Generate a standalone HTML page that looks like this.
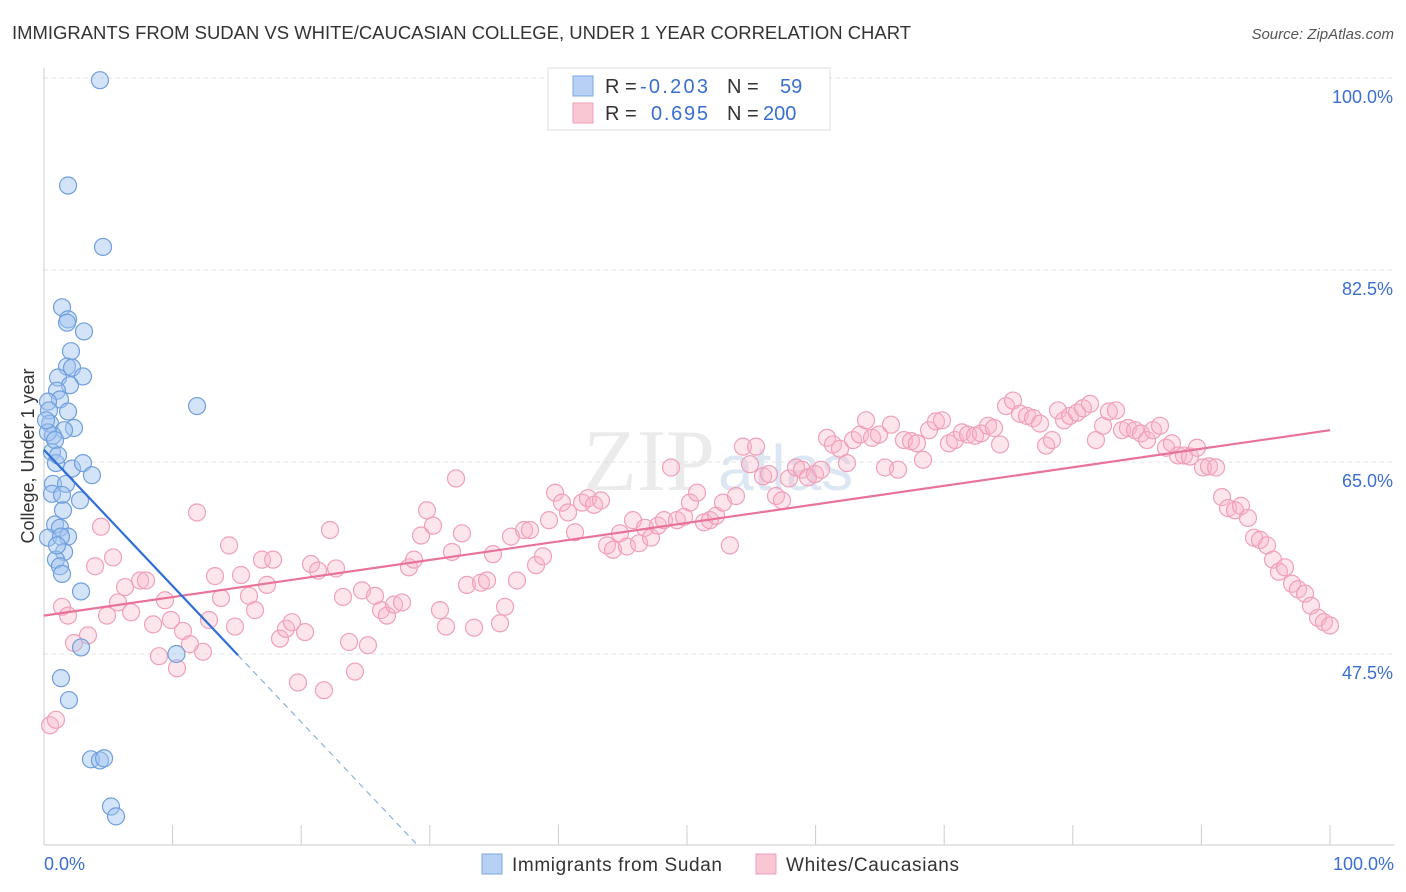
<!DOCTYPE html>
<html><head><meta charset="utf-8">
<style>
body{margin:0;background:#fff;font-family:"Liberation Sans",sans-serif;}
#c{position:relative;width:1406px;height:892px;overflow:hidden;}
</style></head>
<body>
<div id="c">
<svg id="s" width="1406" height="892" xmlns="http://www.w3.org/2000/svg">
<text x="12" y="39" font-size="18" fill="#333" textLength="899" lengthAdjust="spacingAndGlyphs">IMMIGRANTS FROM SUDAN VS WHITE/CAUCASIAN COLLEGE, UNDER 1 YEAR CORRELATION CHART</text>
<text x="1394" y="39" font-size="15" fill="#555" font-style="italic" text-anchor="end">Source: ZipAtlas.com</text>
<text x="715" y="490" font-size="88" font-family="Liberation Serif,serif" fill="#ebebeb" text-anchor="end">ZIP</text>
<text x="718" y="490" font-size="64" fill="#dde7f3">atlas</text>
<g id="grid"></g>
<g id="axes"></g>
<g id="pts"></g>
<g id="lines"></g>
<text transform="translate(34,456) rotate(-90)" font-size="18" fill="#333" text-anchor="middle">College, Under 1 year</text>
<text x="44" y="870" font-size="18" fill="#3a6fd0">0.0%</text>
<text x="1394" y="870" font-size="18" fill="#3a6fd0" text-anchor="end">100.0%</text>
<g>
<rect x="548" y="68" width="282" height="62" fill="#fff" stroke="#ddd"/>
<rect x="573" y="76" width="20" height="20" fill="#b7d0f3" stroke="#7aa8e0"/>
<rect x="573" y="103" width="20" height="20" fill="#f9c6d4" stroke="#f0a0b8"/>
<text x="605" y="93" font-size="20" fill="#333">R = </text><text x="640" y="93" font-size="20" fill="#3a6fd0" textLength="68">-0.203</text>
<text x="727" y="93" font-size="20" fill="#333">N = </text><text x="780" y="93" font-size="20" fill="#3a6fd0">59</text>
<text x="605" y="120" font-size="20" fill="#333">R = </text><text x="651" y="120" font-size="20" fill="#3a6fd0" textLength="57">0.695</text>
<text x="727" y="120" font-size="20" fill="#333">N = </text><text x="763" y="120" font-size="20" fill="#3a6fd0">200</text>
</g>
<g>
<rect x="482" y="854" width="20" height="20" fill="#b7d0f3" stroke="#7aa8e0"/>
<text x="512" y="871" font-size="19" fill="#333" textLength="210">Immigrants from Sudan</text>
<rect x="756" y="854" width="20" height="20" fill="#f9c6d4" stroke="#f0a0b8"/>
<text x="786" y="871" font-size="19" fill="#333" textLength="173">Whites/Caucasians</text>
</g>
</svg>
</div>
<script>
const yTicks=[100,82.5,65,47.5];
const yTickLabels=["100.0%","82.5%","65.0%","47.5%"];
const blueX=[4.35,1.87,4.59,1.40,1.87,1.79,3.11,2.10,1.79,2.18,3.03,1.09,2.02,1.01,1.24,0.31,1.87,0.39,11.9,0.47,2.33,1.56,0.70,0.31,0.62,0.93,2.18,3.03,3.73,0.70,1.71,0.62,1.40,2.80,0.86,1.24,0.31,1.87,1.32,1.56,0.93,1.24,1.40,2.88,2.88,10.3,1.32,1.94,3.65,4.35,4.67,5.21,5.60,0.16,0.86,1.09,1.48,1.01];
const blueY=[99.8,90.2,84.6,79.1,78.0,77.7,76.9,75.1,73.7,73.6,72.8,72.7,72.0,71.5,70.7,70.5,69.6,69.7,70.1,68.5,68.1,67.9,67.4,67.7,65.9,64.9,64.4,64.9,63.8,63.0,63.0,62.1,62.0,61.5,59.3,59.0,58.1,58.2,58.2,56.8,56.1,55.5,54.8,53.2,48.1,47.5,45.3,43.3,37.9,37.8,38.0,33.6,32.7,68.8,67.0,65.6,60.6,57.4];
const pinkX=[0.47,0.93,1.40,1.87,2.33,3.42,3.97,4.43,4.90,5.37,5.75,6.30,6.77,7.47,7.93,8.48,8.94,9.41,9.87,10.34,10.81,11.35,11.90,12.36,12.83,13.30,13.76,14.39,14.85,15.32,15.94,16.41,16.95,17.34,17.81,18.35,18.82,19.28,19.75,20.30,20.76,21.31,21.77,22.24,22.71,23.25,23.72,24.18,24.73,25.19,25.74,26.21,26.67,27.22,27.84,28.38,28.77,29.32,29.78,30.25,30.79,31.26,31.73,32.04,32.50,32.89,33.44,33.98,34.45,34.91,35.46,35.85,36.31,36.78,37.33,37.79,38.26,38.80,39.27,39.74,40.28,40.75,41.29,41.84,42.30,42.77,43.31,43.78,44.25,44.79,45.33,45.80,46.27,46.73,47.20,47.74,48.21,48.76,49.22,49.77,50.23,50.78,51.32,51.79,52.26,52.80,53.34,53.81,54.35,54.90,55.37,55.91,56.38,56.92,57.39,57.93,58.48,58.94,59.41,59.95,60.42,60.89,61.35,61.90,62.44,62.91,63.45,63.92,64.39,64.93,65.40,65.86,66.41,66.87,67.42,67.88,68.35,68.82,69.36,69.83,70.37,70.84,71.38,71.85,72.40,72.86,73.41,73.87,74.34,74.81,75.35,75.89,76.44,76.91,77.45,77.92,78.38,78.85,79.32,79.78,80.33,80.79,81.34,81.80,82.35,82.81,83.36,83.83,84.29,84.84,85.30,85.77,86.24,86.78,87.25,87.71,88.18,88.65,89.11,89.66,90.12,90.59,91.14,91.60,92.07,92.61,93.08,93.62,94.09,94.56,95.10,95.57,96.03,96.50,97.05,97.51,98.06,98.52,99.07,99.53,100.0];
const pinkY=[41.0,41.5,51.8,51.0,48.5,49.2,55.5,59.1,51.0,56.3,52.2,53.6,51.3,54.2,54.2,50.2,47.3,52.4,50.6,46.2,49.6,48.4,60.4,47.7,50.6,54.6,52.6,57.4,50.0,54.7,52.8,51.5,56.1,53.8,56.1,48.9,49.8,50.4,44.9,49.5,55.7,55.1,44.2,58.8,55.3,52.7,48.6,45.9,53.3,48.3,52.8,51.5,51.0,52.0,52.2,55.4,56.1,58.3,60.6,59.2,51.5,50.0,56.8,63.5,58.5,53.8,49.9,54.0,54.2,56.6,50.3,51.8,58.2,54.2,58.8,58.8,55.6,56.4,59.7,62.2,61.3,60.4,58.6,61.3,61.7,61.1,61.5,57.4,57.0,58.5,57.3,59.7,57.6,59.0,58.1,59.2,59.7,64.5,59.7,60.0,61.3,62.2,59.5,59.7,60.1,61.3,57.4,61.9,66.4,64.8,66.4,63.7,63.9,61.9,61.5,63.5,64.5,64.3,63.6,63.9,64.3,67.2,66.6,66.2,64.9,67.0,67.5,68.8,67.2,67.5,64.5,68.4,64.3,67.0,66.9,66.7,65.2,67.9,68.7,68.8,66.7,67.0,67.7,67.5,67.4,67.6,68.3,68.1,66.6,70.1,70.6,69.4,69.2,69.0,68.5,66.5,67.0,69.7,68.8,69.2,69.5,69.9,70.3,67.0,68.3,69.6,69.7,67.9,68.1,67.9,67.6,67.0,67.9,68.3,66.3,66.7,65.6,65.6,65.5,66.3,64.5,64.6,64.5,61.8,60.8,60.6,61.0,59.9,58.1,57.9,57.4,56.1,55.0,55.4,53.9,53.4,53.0,51.9,50.8,50.4,50.1];
const pinkTrend=[51.0,67.9];
const blueTrend={intercept:66.1,slope:-1.24,solidEnd:15.09,dashEnd:29.1};

const NS="http://www.w3.org/2000/svg";
const X=v=>44+v*12.86;
const Y=v=>78+(100-v)*192/17.5;
function mk(t,a,p){const e=document.createElementNS(NS,t);for(const k in a)e.setAttribute(k,a[k]);p.appendChild(e);return e;}
const grid=document.getElementById('grid'),axes=document.getElementById('axes'),pts=document.getElementById('pts'),lines=document.getElementById('lines');
yTicks.forEach((t,i)=>{
 const l=mk('line',{x1:44,x2:1394,y1:Y(t),y2:Y(t),stroke:'#e2e2e2','stroke-dasharray':'4,4'},grid);
 
 
 const tx=mk('text',{x:1393,y:Y(t)+25,'font-size':18,fill:'#3a6fd0','text-anchor':'end'},grid);
 tx.textContent=yTickLabels[i];
 
 
});
const ax=mk('line',{x1:44,x2:1394,y1:845,y2:845,stroke:'#ccc'},axes);


const ay=mk('line',{x1:44,x2:44,y1:68,y2:845,stroke:'#ccc'},axes);


for(let i=0;i<=10;i++){
 const t=mk('line',{x1:X(i*10),x2:X(i*10),y1:825,y2:845,stroke:'#ccc'},axes);
 
 
}
pinkX.forEach((x,i)=>{
 const c=mk('circle',{cx:X(x),cy:Y(pinkY[i]),r:8.5,fill:'rgba(248,180,200,0.35)',stroke:'#f0a0b8','stroke-width':1.2},pts);
 
 
});
blueX.forEach((x,i)=>{
 const c=mk('circle',{cx:X(x),cy:Y(blueY[i]),r:8.5,fill:'rgba(160,196,240,0.45)',stroke:'#6f9fdc','stroke-width':1.2},pts);
 
 
});
const pl=mk('line',{x1:X(0),y1:Y(pinkTrend[0]),x2:X(100),y2:Y(pinkTrend[1]),stroke:'#e8739a','stroke-width':2.2},lines);


const by=x=>blueTrend.intercept+blueTrend.slope*x;
const bl=mk('line',{x1:X(0),y1:Y(by(0)),x2:X(blueTrend.solidEnd),y2:Y(by(blueTrend.solidEnd)),stroke:'#2f6fd6','stroke-width':2.2},lines);


const bd=mk('line',{x1:X(blueTrend.solidEnd),y1:Y(by(blueTrend.solidEnd)),x2:X(blueTrend.dashEnd),y2:Y(by(blueTrend.dashEnd)),stroke:'#8fb0e0','stroke-width':1.2,'stroke-dasharray':'6,5'},lines);


</script>
</body></html>
